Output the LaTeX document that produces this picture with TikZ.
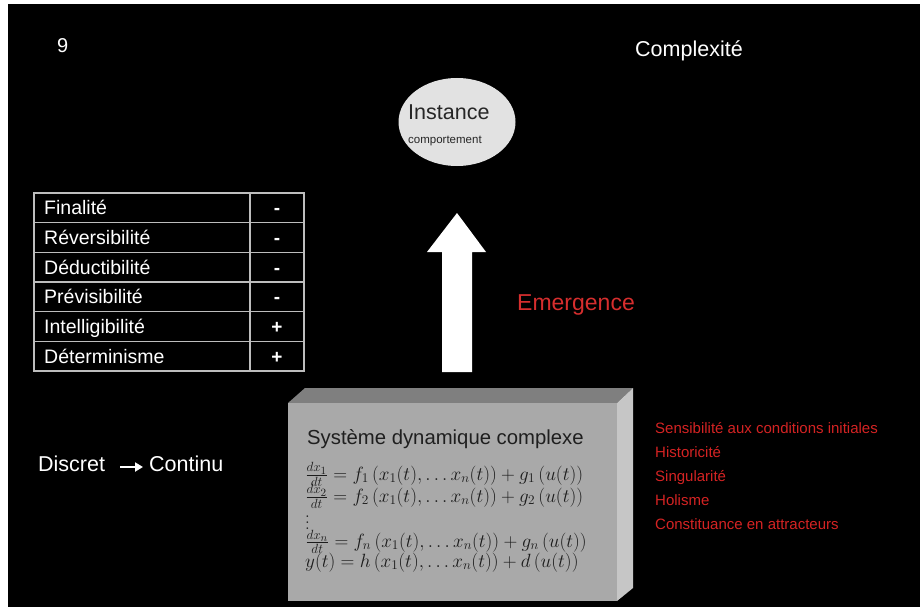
\documentclass[tikz,border=0pt]{standalone}
\usepackage[no-math]{fontspec}
\setmainfont{Liberation Sans}
\usepackage{amsmath}
\usepackage{graphicx}
\usetikzlibrary{arrows.meta,shapes.geometric}

\definecolor{frontgray}{HTML}{A9A9A9}
\definecolor{topgray}{HTML}{7F7F7F}
\definecolor{sidegray}{HTML}{C6C6C6}
\definecolor{ovalgray}{HTML}{E2E2E2}
\definecolor{gridgray}{HTML}{BDBDBD}
\definecolor{redtext}{HTML}{D42323}
\definecolor{mathink}{HTML}{1C1C1C}

% equations are set at 17.28pt and enlarged a little
\newcommand\eqscaled[1]{\scalebox{1.11}{$#1$}}

\begin{document}
\begin{tikzpicture}[x=1pt,y=-1pt,
  txt/.style={inner sep=0pt, anchor=base west, text=white},
  fsz/.style={font={\fontsize{#1}{#1}\selectfont}},
  redline/.style={txt, text=redtext, fsz=15},
  tabcell/.style={txt, fsz=19.5},
  tablegrid/.style={draw=gridgray, line width=1.1pt},
  eqline/.style={inner sep=0pt, anchor=base west, text=mathink, fsz=17.28}]

% page background with its thin white rim
\useasboundingbox (0,0) rectangle (920,607);
\fill[white] (0,0) rectangle (920,607);
\fill[black] (8,4) rectangle (920,607);

% header
\node[txt, fsz=20] (num) at (57,53) {9};
\node[txt, fsz=21.5] (title) at (635,57) {Complexité};

% instance oval
\node[ellipse, fill=ovalgray, minimum width=117pt, minimum height=88pt, inner sep=0pt] (inst) at (457,122) {};
\node[txt, text=black!85, fsz=21.5] (instname) at (408,120) {Instance};
\node[txt, text=black!85, fsz=11.5] (instsub) at (408,143) {comportement};

% property table
\draw[tablegrid] (34,193) rectangle (304,371);
\draw[tablegrid] (250,193) -- (250,371);
\foreach \k in {1,...,5}
  \draw[tablegrid] (34,{193+29.67*\k}) -- (304,{193+29.67*\k});
\foreach \lab/\sgn [count=\i] in {Finalité/-, Réversibilité/-, Déductibilité/-, Prévisibilité/-, Intelligibilité/+, Déterminisme/+} {
  \node[tabcell] (prop\i) at (44,{193+29.67*(\i-0.5)+7}) {\lab};
  \node[inner sep=0pt, anchor=base, text=white, font={\bfseries\fontsize{19}{19}\selectfont}] (sign\i) at (277,{193+29.67*(\i-0.5)+7}) {\sgn};
}

% emergence block arrow between the system and its instance
\coordinate (shaftL) at (442,372);
\coordinate (shaftR) at (472,372);
\fill[white] (shaftL) -- (442,252) -- (427,252) -- (457,213) -- (486,252) -- (472,252) -- (shaftR) -- cycle;
\node[txt, text=redtext!95!white, fsz=23] (emerg) at (517,310) {Emergence};

% discrete to continuous
\node[txt, fsz=21.5] (disc) at (38,471) {Discret};
\node[txt, fsz=21.5] (cont) at (149,471) {Continu};
\draw[white, line width=2.6pt, -{Triangle[length=8pt,width=9pt]}, shorten <=15pt, shorten >=6pt]
  ([yshift=4pt]disc.base east) -- ([yshift=4pt]cont.base west);

% dynamic system block
\fill[topgray] (288,403) -- (305,388) -- (633,388) -- (617,403) -- cycle;
\fill[sidegray] (617,403) -- (633,388) -- (633,588) -- (617,601) -- cycle;
\fill[frontgray] (288,403) rectangle (617,601);
\node[txt, text=black!88, fsz=20.3] (systitle) at (307,444) {Système dynamique complexe};
\node[eqline] (eq1) at (305,480) {\eqscaled{\frac{dx_1}{dt} = f_1\left(x_1(t),\ldots x_n(t)\right) + g_1\left(u(t)\right)}};
\node[eqline] (eq2) at (305,502) {\eqscaled{\frac{dx_2}{dt} = f_2\left(x_1(t),\ldots x_n(t)\right) + g_2\left(u(t)\right)}};
\node[eqline] (eqdots) at (305,529) {\vbox{\baselineskip=6pt\lineskiplimit=0pt\hbox{$.$}\hbox{$.$}\hbox{$.$}}};
\node[eqline] (eqn) at (305,547) {\eqscaled{\frac{dx_n}{dt} = f_n\left(x_1(t),\ldots x_n(t)\right) + g_n\left(u(t)\right)}};
\node[eqline] (eqy) at (305,567) {\eqscaled{y(t) = h\left(x_1(t),\ldots x_n(t)\right) + d\left(u(t)\right)}};

% properties of complex systems
\node[redline] (p1) at (655,433) {Sensibilité aux conditions initiales};
\node[redline] (p2) at (655,457) {Historicité};
\node[redline] (p3) at (655,481) {Singularité};
\node[redline] (p4) at (655,505) {Holisme};
\node[redline] (p5) at (655,529) {Constituance en attracteurs};
\end{tikzpicture}
\end{document}
